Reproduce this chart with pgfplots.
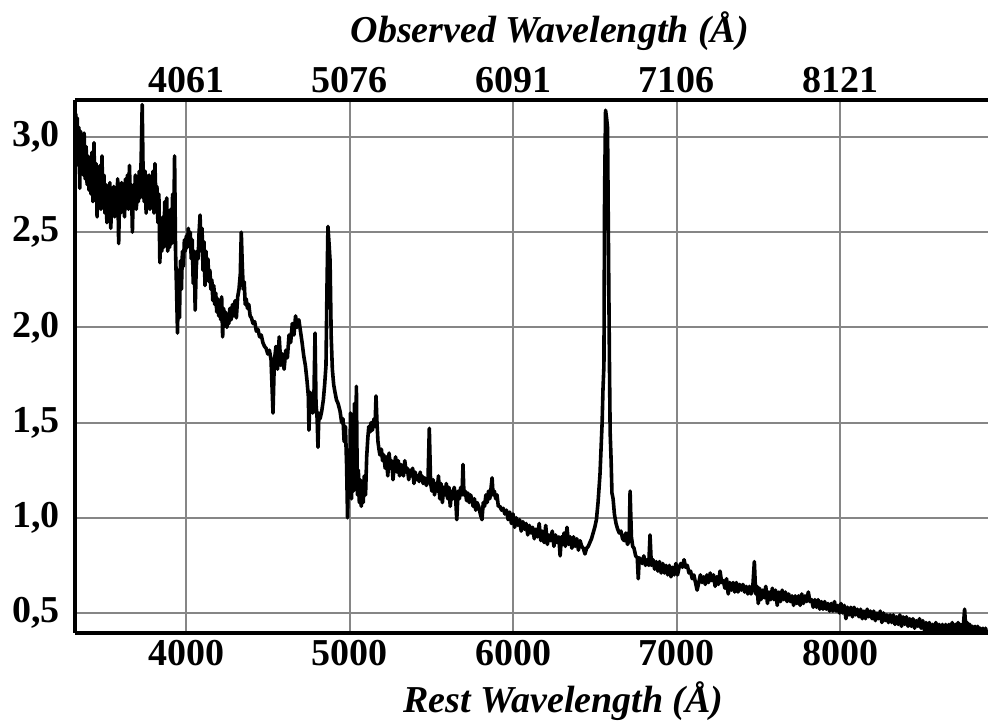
\documentclass[border=0pt]{standalone}
\usepackage{fontspec}
\setmainfont{Liberation Serif}
\usepackage{pgfplots}
\pgfplotsset{compat=1.18}

\pgfplotsset{
  spec/.style={
    width=456.5pt, height=266.5pt, scale only axis,
    xmin=3321, xmax=8905, ymin=0.395, ymax=3.194,
    separate axis lines,
    axis line style={-, line width=2.2pt, black},
    major tick length=0pt,
    tick label style={font=\fontsize{19}{21}\selectfont\bfseries},
    label style={font=\fontsize{19}{21}\selectfont\bfseries\itshape},
    /pgf/number format/assume math mode=true,
  }
}

\pgfplotstableread{
lam flux
3322 2.95
3326 3.12
3330 2.88
3335 3.10
3340 2.85
3345 3.05
3350 2.73
3355 3.03
3360 2.82
3366 2.98
3371 2.80
3377 3.02
3383 2.78
3389 2.95
3395 2.75
3401 2.90
3407 2.72
3413 2.88
3419 2.70
3425 2.92
3431 2.66
3437 2.97
3443 2.68
3450 2.86
3456 2.58
3462 2.80
3468 2.70
3474 2.85
3480 2.62
3486 2.90
3492 2.65
3498 2.80
3504 2.60
3510 2.75
3516 2.55
3522 2.72
3528 2.60
3534 2.76
3540 2.52
3546 2.70
3552 2.62
3558 2.74
3564 2.58
3570 2.72
3576 2.62
3582 2.78
3588 2.44
3594 2.70
3600 2.60
3606 2.76
3612 2.62
3618 2.72
3624 2.58
3630 2.78
3636 2.64
3642 2.80
3648 2.62
3654 2.85
3660 2.66
3666 2.75
3672 2.50
3678 2.72
3684 2.65
3690 2.80
3696 2.62
3702 2.74
3708 2.66
3714 2.82
3720 2.68
3726 2.90
3732 3.17
3738 2.78
3744 2.66
3750 2.82
3756 2.60
3762 2.76
3768 2.66
3774 2.80
3780 2.62
3786 2.75
3792 2.64
3798 2.82
3804 2.60
3810 2.86
3816 2.66
3822 2.74
3828 2.55
3834 2.70
3840 2.34
3846 2.55
3852 2.40
3858 2.58
3864 2.42
3870 2.66
3876 2.45
3882 2.68
3888 2.40
3894 2.58
3900 2.42
3906 2.62
3912 2.44
3918 2.70
3924 2.46
3930 2.90
3936 2.40
3942 2.20
3948 1.97
3954 2.30
3960 2.05
3966 2.35
3972 2.20
3978 2.40
3984 2.32
3990 2.46
3996 2.40
4002 2.48
4008 2.42
4014 2.52
4020 2.44
4026 2.50
4032 2.36
4038 2.46
4044 2.23
4050 2.40
4056 2.09
4062 2.30
4068 2.40
4074 2.36
4080 2.50
4086 2.59
4092 2.40
4098 2.52
4104 2.30
4110 2.45
4116 2.22
4122 2.40
4128 2.28
4134 2.36
4140 2.24
4146 2.30
4152 2.20
4158 2.25
4164 2.14
4170 2.22
4176 2.12
4182 2.18
4188 2.08
4194 2.15
4200 2.06
4206 2.12
4212 2.04
4218 2.16
4224 1.95
4230 2.10
4236 2.02
4242 2.08
4250 2.00
4256 2.06
4262 2.02
4268 2.10
4276 2.04
4284 2.12
4292 2.06
4300 2.14
4308 2.05
4316 2.16
4324 2.20
4332 2.28
4338 2.50
4344 2.33
4350 2.20
4356 2.24
4362 2.12
4368 2.15
4376 2.10
4384 2.12
4392 2.06
4400 2.05
4410 2.02
4420 2.03
4430 1.98
4440 1.99
4450 1.95
4460 1.96
4470 1.92
4480 1.90
4490 1.89
4500 1.86
4510 1.88
4520 1.83
4532 1.55
4540 1.82
4550 1.90
4560 1.78
4570 1.95
4580 1.80
4590 1.86
4600 1.78
4610 1.88
4620 1.84
4630 1.96
4640 1.92
4650 2.02
4660 1.96
4670 2.06
4680 2.00
4690 2.04
4700 1.98
4710 1.92
4720 1.85
4730 1.80
4740 1.72
4748 1.64
4752 1.46
4758 1.66
4766 1.60
4775 1.55
4782 1.62
4789 1.97
4795 1.60
4802 1.52
4807 1.37
4813 1.55
4820 1.52
4830 1.56
4840 1.62
4848 1.70
4856 1.80
4862 2.20
4868 2.53
4874 2.45
4881 2.35
4888 1.95
4895 1.78
4903 1.70
4911 1.66
4920 1.62
4930 1.60
4942 1.56
4952 1.50
4960 1.52
4967 1.40
4975 1.48
4982 1.28
4988 1.00
4994 1.35
5000 1.15
5006 1.55
5012 1.10
5018 1.52
5024 1.14
5030 1.60
5036 1.18
5042 1.69
5048 1.12
5054 1.25
5060 1.08
5066 1.20
5072 1.06
5078 1.16
5084 1.08
5090 1.22
5098 1.12
5105 1.32
5112 1.42
5118 1.48
5125 1.45
5132 1.50
5140 1.46
5150 1.52
5156 1.48
5162 1.64
5168 1.50
5174 1.40
5180 1.36
5186 1.33
5195 1.36
5202 1.30
5210 1.33
5218 1.26
5226 1.32
5234 1.22
5242 1.34
5250 1.26
5258 1.30
5266 1.20
5274 1.28
5282 1.32
5290 1.24
5298 1.30
5306 1.22
5314 1.28
5322 1.26
5330 1.22
5338 1.30
5346 1.24
5354 1.26
5362 1.20
5370 1.25
5378 1.22
5386 1.26
5394 1.18
5402 1.24
5410 1.20
5418 1.22
5426 1.19
5432 1.24
5438 1.20
5444 1.22
5450 1.18
5460 1.21
5470 1.17
5480 1.20
5488 1.47
5496 1.18
5504 1.14
5512 1.20
5520 1.12
5528 1.18
5536 1.14
5544 1.22
5552 1.10
5560 1.18
5568 1.08
5576 1.16
5584 1.12
5592 1.18
5600 1.10
5608 1.16
5616 1.06
5624 1.14
5632 1.10
5640 1.16
5648 1.12
5656 0.99
5664 1.14
5672 1.10
5680 1.16
5688 1.12
5694 1.28
5700 1.12
5708 1.14
5716 1.09
5724 1.13
5732 1.08
5740 1.12
5748 1.10
5756 1.06
5764 1.10
5772 1.04
5780 1.08
5790 1.06
5800 1.02
5810 0.99
5818 1.08
5826 1.06
5834 1.12
5842 1.08
5850 1.14
5858 1.10
5866 1.16
5872 1.21
5878 1.12
5886 1.14
5894 1.10
5902 1.12
5910 1.06
5920 1.06
5930 1.04
5940 1.05
5950 1.02
5960 1.04
5970 0.99
5980 1.03
5990 0.97
6000 1.02
6010 0.95
6020 1.00
6030 0.96
6040 0.99
6050 0.93
6060 0.98
6070 0.94
6080 0.97
6090 0.91
6100 0.96
6110 0.92
6120 0.95
6130 0.89
6140 0.94
6150 0.90
6160 0.97
6170 0.88
6180 0.93
6190 0.87
6200 0.96
6210 0.86
6220 0.91
6230 0.88
6240 0.93
6250 0.85
6260 0.91
6270 0.87
6280 0.90
6288 0.80
6296 0.90
6304 0.86
6312 0.92
6320 0.85
6330 0.95
6340 0.86
6350 0.90
6360 0.84
6370 0.90
6380 0.85
6390 0.89
6400 0.83
6410 0.88
6420 0.85
6430 0.84
6440 0.81
6450 0.84
6460 0.85
6470 0.87
6480 0.89
6490 0.92
6500 0.95
6510 0.99
6520 1.08
6532 1.23
6545 1.50
6550 1.67
6556 1.80
6560 2.70
6566 3.14
6572 3.10
6578 3.05
6584 2.40
6590 1.79
6594 1.45
6600 1.30
6605 1.13
6612 1.10
6620 1.02
6630 0.97
6640 0.94
6650 0.92
6660 0.93
6670 0.89
6680 0.88
6690 0.92
6700 0.86
6710 0.88
6716 1.14
6724 0.90
6732 0.85
6740 0.84
6750 0.80
6760 0.79
6766 0.68
6772 0.79
6780 0.78
6790 0.76
6800 0.80
6810 0.75
6820 0.78
6830 0.75
6838 0.91
6846 0.75
6856 0.78
6866 0.73
6876 0.77
6886 0.72
6896 0.77
6906 0.71
6916 0.76
6926 0.71
6936 0.75
6946 0.70
6956 0.75
6966 0.69
6976 0.74
6986 0.70
6996 0.76
7006 0.70
7016 0.74
7026 0.76
7036 0.74
7046 0.78
7056 0.74
7066 0.75
7076 0.71
7086 0.72
7096 0.68
7106 0.70
7116 0.66
7126 0.62
7136 0.66
7146 0.70
7156 0.66
7166 0.69
7176 0.65
7186 0.70
7196 0.66
7206 0.71
7216 0.67
7226 0.70
7236 0.64
7246 0.69
7256 0.65
7266 0.72
7276 0.66
7286 0.67
7296 0.63
7306 0.68
7316 0.60
7326 0.66
7336 0.62
7346 0.66
7356 0.61
7366 0.66
7376 0.61
7386 0.65
7396 0.62
7406 0.65
7416 0.61
7426 0.64
7436 0.60
7446 0.64
7456 0.60
7466 0.63
7476 0.77
7484 0.60
7492 0.64
7500 0.55
7508 0.63
7516 0.57
7526 0.62
7536 0.58
7546 0.64
7556 0.55
7566 0.61
7576 0.57
7586 0.63
7596 0.57
7606 0.62
7616 0.54
7626 0.61
7636 0.56
7646 0.62
7656 0.57
7666 0.61
7676 0.56
7686 0.60
7696 0.56
7706 0.59
7716 0.54
7726 0.59
7736 0.55
7746 0.59
7756 0.54
7766 0.60
7776 0.55
7786 0.59
7796 0.56
7806 0.61
7816 0.56
7826 0.57
7836 0.53
7846 0.57
7856 0.53
7866 0.57
7876 0.52
7886 0.56
7896 0.52
7906 0.56
7916 0.52
7926 0.55
7936 0.51
7946 0.55
7956 0.51
7966 0.56
7976 0.51
7986 0.54
7996 0.50
8006 0.55
8016 0.50
8026 0.54
8036 0.47
8046 0.53
8056 0.49
8066 0.53
8076 0.48
8086 0.53
8096 0.49
8106 0.52
8116 0.48
8126 0.52
8136 0.47
8146 0.51
8156 0.47
8166 0.52
8176 0.48
8186 0.51
8196 0.47
8206 0.51
8216 0.46
8226 0.50
8236 0.47
8246 0.51
8256 0.45
8266 0.50
8276 0.46
8286 0.49
8296 0.45
8306 0.49
8316 0.45
8326 0.49
8336 0.44
8346 0.48
8356 0.44
8366 0.49
8376 0.43
8386 0.48
8396 0.44
8406 0.48
8416 0.43
8426 0.47
8436 0.43
8446 0.47
8456 0.42
8466 0.46
8476 0.43
8486 0.47
8496 0.42
8506 0.46
8516 0.41
8526 0.45
8536 0.41
8546 0.45
8556 0.41
8566 0.44
8576 0.40
8586 0.45
8596 0.40
8606 0.44
8616 0.40
8626 0.44
8636 0.40
8646 0.44
8656 0.40
8666 0.44
8676 0.40
8686 0.45
8696 0.40
8706 0.44
8714 0.40
8722 0.45
8730 0.40
8738 0.44
8746 0.40
8754 0.43
8762 0.52
8770 0.40
8778 0.45
8786 0.40
8794 0.44
8802 0.40
8810 0.43
8818 0.39
8826 0.43
8834 0.40
8842 0.43
8850 0.39
8858 0.42
8866 0.39
8874 0.42
8882 0.39
8890 0.42
8898 0.39
8906 0.40
}\spectrum

\begin{document}
\begin{tikzpicture}
  % rest-frame axis: bottom and left, with the grid and the spectrum
  \begin{axis}[spec,
    axis x line*=bottom, axis y line*=left,
    grid=major, major grid style={line width=1pt, gray!95},
    xtick={4000,5000,6000,7000,8000},
    xticklabel style={/pgf/number format/1000 sep={}},
    ytick={0.5,1,1.5,2,2.5,3},
    yticklabel style={xshift=-4pt, /pgf/number format/.cd, use comma, fixed, fixed zerofill, precision=1},
    xlabel={Rest Wavelength (Å)},
    xlabel style={at={(axis description cs:0.535,0)}, anchor=north, yshift=-21pt},
  ]
    \addplot[black, line width=1.8pt, line join=round] table[x=lam, y=flux] {\spectrum};
    \coordinate (sw) at (rel axis cs:0,0);
    \coordinate (ne) at (rel axis cs:1,1);
  \end{axis}
  % observed-frame axis on top (z = 0.015)
  \begin{axis}[spec,
    axis x line*=top, axis y line=none,
    xtick={4000,5000,6000,7000,8000},
    xticklabels={4061,5076,6091,7106,8121},
    xlabel={Observed Wavelength (Å)},
    xlabel style={at={(axis description cs:0.52,1)}, anchor=south, yshift=21pt},
  ]
  \end{axis}
  \pgfresetboundingbox
  \useasboundingbox ([xshift=-37.5pt,yshift=-44.5pt]sw) rectangle ([yshift=50pt]ne);
\end{tikzpicture}
\end{document}
